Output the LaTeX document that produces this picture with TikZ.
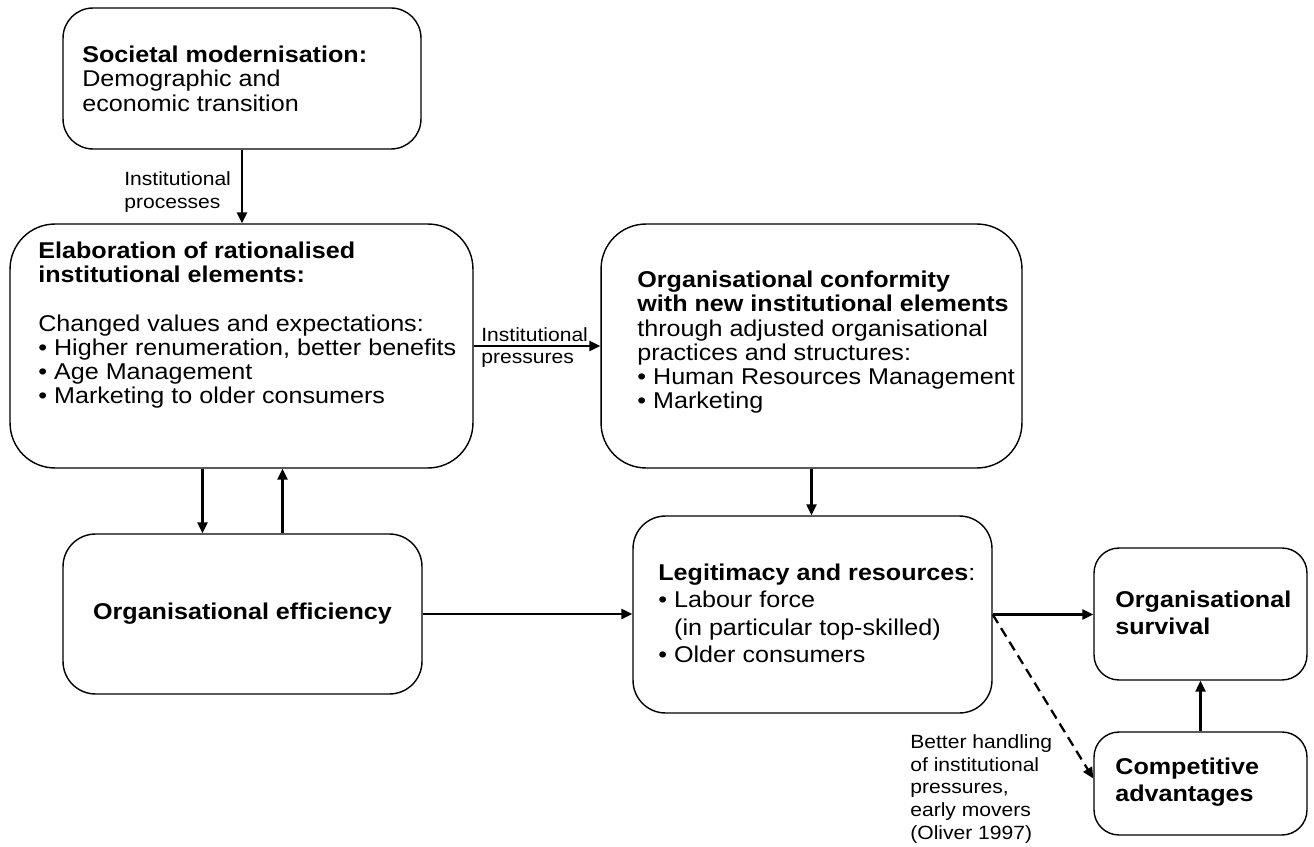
\documentclass[tikz,border=0pt]{standalone}
\usepackage{fontspec}
\setmainfont{Liberation Sans}[FakeStretch=1.1]
\usetikzlibrary{arrows.meta}

\newcommand{\bodyfont}{\fontsize{13}{13.7}\selectfont}
\newcommand{\widefont}{\fontsize{13}{15.4}\selectfont}
\newcommand{\labelfont}{\fontsize{10.9}{13}\selectfont}

\tikzset{
  panel/.style={draw, line width=0.8pt, rounded corners=#1, inner sep=0pt},
  txt/.style={anchor=north west, align=left, inner sep=0pt, font=\bodyfont},
  lbl/.style={inner sep=0pt, font=\labelfont},
  arr/.style={line width=1.3pt, -{Triangle[length=0.22cm,width=0.2cm]}}
}

\begin{document}
\begin{tikzpicture}[x=0.02cm, y=-0.02cm]

\useasboundingbox (0,0) rectangle (1314,847);
% \draw[help lines, color=gray!30] (0,0) grid[step=50] (1314,847);

% boxes
\node[panel=0.6cm, minimum width=7.16cm, minimum height=2.82cm] (soc) at (242,78.5) {};
\node[panel=0.9cm, minimum width=9.26cm, minimum height=4.88cm] (elab) at (241.5,346) {};
\node[panel=0.9cm, minimum width=8.42cm, minimum height=4.88cm] (conf) at (811.5,346) {};
\node[panel=0.65cm, minimum width=7.18cm, minimum height=3.2cm, font=\bodyfont\bfseries] (effic) at (242.5,614) {Organisational efficiency};
\node[panel=0.65cm, minimum width=7.18cm, minimum height=3.94cm] (legit) at (812.5,614.5) {};
\node[panel=0.5cm, minimum width=4.26cm, minimum height=2.64cm] (surv) at (1200.5,614) {};
\node[panel=0.5cm, minimum width=4.26cm, minimum height=2.06cm] (compA) at (1200.5,783.5) {};

% texts
\node[txt] (socT) at (82,46) {\textbf{Societal modernisation:}\\Demographic and\\economic transition};
\node[txt] (elabT) at (38,242) {\textbf{Elaboration of rationalised}\\\textbf{institutional elements:}\\[0.48cm]Changed values and expectations:\\• Higher renumeration, better benefits\\• Age Management\\• Marketing to older consumers};
\node[txt] (confT) at (637,271) {\textbf{Organisational conformity}\\\textbf{with new institutional elements}\\through adjusted organisational\\practices and structures:\\• Human Resources Management\\• Marketing};
\node[txt, font=\widefont] (legitT) at (658,564) {\textbf{Legitimacy and resources}:\\• Labour force\\\hphantom{• }(in particular top-skilled)\\• Older consumers};
\node[txt, font=\widefont\bfseries] (survT) at (1115,591) {Organisational\\survival};
\node[txt, font=\widefont\bfseries] (compT) at (1115,758) {Competitive\\advantages};

% labels
\node[lbl, anchor=north west, align=left] (procL) at (124,171) {Institutional\\processes};
\node[lbl, anchor=base west] (presA) at (481,342) {Institutional};
\node[lbl, anchor=base west] (presB) at (481,364) {pressures};
\node[lbl, anchor=north west, align=left] (handL) at (910,734) {Better handling\\of institutional\\pressures,\\early movers\\(Oliver 1997)};

% arrows
\draw[arr] (soc.south) -- (soc.south |- elab.north);
\draw[arr] (elab) -- (conf);
\draw[arr] ([xshift=-0.78cm]elab.south) -- ([xshift=-0.78cm]elab.south |- effic.north);
\draw[arr] ([xshift=0.82cm]elab.south |- effic.north) -- ([xshift=0.82cm]elab.south);
\draw[arr] (effic.east) -- (effic.east -| legit.west);
\draw[arr] (conf.south) -- (conf.south |- legit.north);
\draw[arr] (legit.east) -- (legit.east -| surv.west);
\draw[arr, dash pattern=on 0.2cm off 0.12cm] (legit.east) -- ([yshift=0.1cm]compA.west);
\draw[arr] (compA.north) -- (compA.north |- surv.south);

\end{tikzpicture}
\end{document}
